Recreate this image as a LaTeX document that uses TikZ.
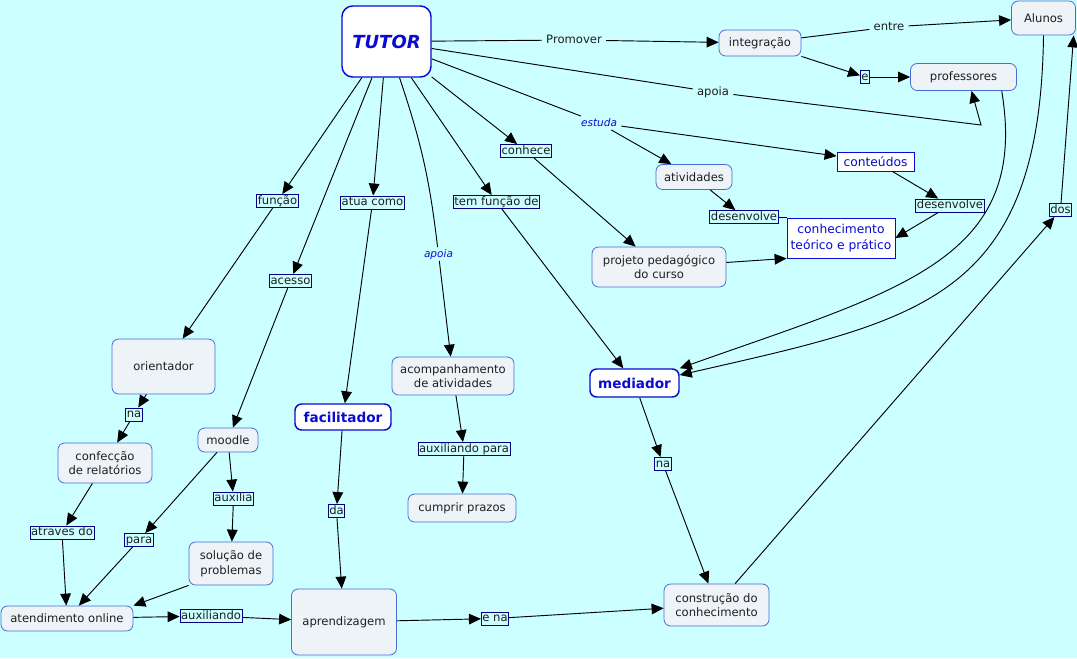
\documentclass[tikz,border=0pt]{standalone}
\usepackage{fontspec}
\setmainfont{DejaVu Sans}
\usetikzlibrary{arrows.meta}
\definecolor{mapbg}{RGB}{204,255,255}
\definecolor{mapfill}{RGB}{238,243,247}
\definecolor{mapedge}{RGB}{70,110,215}
\definecolor{mapnavy}{RGB}{0,0,128}
\definecolor{mapblue}{RGB}{10,10,210}
\definecolor{maptext}{RGB}{30,30,30}
\tikzset{
	concept/.style={draw=mapedge,fill=mapfill,rounded corners=5pt,text=maptext,align=center,
		inner sep=1pt,line width=0.6pt,font=\fontsize{8.7}{11}\selectfont},
	keyconcept/.style={concept,draw=mapblue,line width=1.1pt,fill=white,text=mapblue,
		font=\fontsize{10.2}{12}\selectfont\bfseries},
	topic/.style={concept,draw=mapblue,line width=0.6pt,fill=white,rounded corners=0pt,text=mapblue,
		font=\fontsize{9.2}{12.5}\selectfont},
	boxsize/.style 2 args={minimum width=#1*0.75pt,minimum height=#2*0.75pt},
	link/.style={draw=mapnavy,fill=mapbg,inner xsep=0.8pt,inner ysep=0.6pt,text height=6.8pt,
		text depth=1.9pt,text=maptext,line width=0.55pt,font=\fontsize{8.7}{10}\selectfont},
	plainlink/.style={link,draw=none,inner xsep=3pt},
	itlink/.style={plainlink,text=mapblue,font=\fontsize{7.9}{9}\selectfont\itshape},
	arc/.style={draw=black,line width=0.7pt},
	arr/.style={arc,-{Triangle[length=9pt,width=8pt]}}
}
\begin{document}
\begin{tikzpicture}[x=0.75pt,y=-0.75pt]
	\useasboundingbox (0,0) rectangle (1077,658);
	\fill [mapbg] (0,0) rectangle (1077,658);
	
	% concepts
	\node [keyconcept,boxsize={89}{71},rounded corners=8pt,font=\fontsize{13.5}{15}\selectfont\bfseries\itshape] (tutor) at (386.5,41.5) {TUTOR};
	\node [concept,boxsize={82}{26}] (integracao) at (760,43) {integração};
	\node [concept,boxsize={64}{34}] (alunos) at (1043.5,18) {Alunos};
	\node [concept,boxsize={106}{27}] (professores) at (963.5,77) {professores};
	\node [topic,boxsize={77}{19}] (conteudos) at (875.5,161.5) {conteúdos};
	\node [concept,boxsize={76}{25}] (atividades) at (694,177) {atividades};
	\node [topic,boxsize={108}{40}] (conhecimento) at (841,238) {conhecimento\\teórico e prático};
	\node [concept,boxsize={134}{40}] (projeto) at (659,267) {projeto pedagógico\\do curso};
	\node [concept,boxsize={103}{55}] (orientador) at (163.5,366.5) {orientador};
	\node [concept,boxsize={94}{40}] (confeccao) at (105,463) {confecção\\de relatórios};
	\node [concept,boxsize={60}{24}] (moodle) at (228,440) {moodle};
	\node [keyconcept,boxsize={96}{26}] (facilitador) at (343,417) {facilitador};
	\node [concept,boxsize={122}{38}] (acompanhamento) at (453,376) {acompanhamento\\de atividades};
	\node [concept,boxsize={108}{28}] (prazos) at (462,508) {cumprir prazos};
	\node [concept,boxsize={84}{43}] (solucao) at (231,563.5) {solução de\\problemas};
	\node [concept,boxsize={132}{25}] (atendimento) at (67,618.5) {atendimento online};
	\node [concept,boxsize={105}{66}] (aprendizagem) at (344,622) {aprendizagem};
	\node [keyconcept,boxsize={89}{28}] (mediador) at (634.5,383) {mediador};
	\node [concept,boxsize={105}{42}] (construcao) at (716.5,605) {construção do\\conhecimento};
	
	% linking phrases
	\node [plainlink] (promover) at (574,40) {Promover};
	\node [plainlink] (entre) at (889,27) {entre};
	\node [link] (elink) at (865,77) {e};
	\node [plainlink] (apoia) at (713,92) {apoia};
	\node [itlink] (estuda) at (599,123) {estuda};
	\node [link] (conhece) at (526,151) {conhece};
	\node [link] (atuacomo) at (372.5,202.5) {atua como};
	\node [link] (funcao) at (277.5,201) {função};
	\node [link] (temfuncao) at (496.5,202) {tem função de};
	\node [link] (acesso) at (290.5,281) {acesso};
	\node [itlink] (apoiaacomp) at (438.5,254) {apoia};
	\node [link] (desenv) at (744,217) {desenvolve};
	\node [link] (desenvconteudos) at (950,205.5) {desenvolve};
	\node [link] (dos) at (1060.5,210) {dos};
	\node [link] (na) at (134,414.5) {na};
	\node [link] (atraves) at (62,532.5) {atraves do};
	\node [link] (para) at (139,540) {para};
	\node [link] (auxilia) at (233.5,498.5) {auxilia};
	\node [link] (da) at (336.5,511) {da};
	\node [link] (auxiliando) at (211,616) {auxiliando};
	\node [link] (auxpara) at (464,449) {auxiliando para};
	\node [link] (ena) at (495,618.5) {e na};
	\node [link] (namediador) at (663,464) {na};
	
	% top right
	\draw [arc] (tutor) -- (promover);
	\draw [arr] (promover) -- (integracao);
	\draw [arc] (integracao) -- (entre);
	\draw [arr] (entre) -- (alunos);
	\draw [arr] (integracao) -- (elink);
	\draw [arr] (elink) -- (professores);
	\coordinate (apoiabend) at (981,125);
	\draw [arc] (tutor) -- (apoia);
	\draw [arr] (apoia) -- (apoiabend) -- (professores.-60);
	\draw [arc] (tutor) -- (estuda);
	\draw [arr] (estuda) -- (atividades);
	\draw [arr] (estuda) -- (conteudos);
	\draw [arr] (tutor) -- (conhece);
	\draw [arr] (conhece) -- (projeto);
	\draw [arr] (atividades) -- (desenv);
	\draw [arc] (desenv.east) -- (desenv.east -| conhecimento.west);
	\draw [arr] (conteudos) -- (desenvconteudos);
	\draw [arr] (desenvconteudos) -- (conhecimento.east);
	\draw [arr] (projeto) -- (conhecimento.south west);
	\draw [arr] (professores.-20) .. controls (1030,260) and (900,290) .. (mediador.north east);
	\draw [arr] (alunos.south) .. controls (1040,300) and (920,320) .. (mediador.10);
	
	% down from the tutor
	\draw [arr] (tutor) -- (funcao);
	\draw [arr] (funcao) -- (orientador);
	\draw [arr] (tutor) -- (acesso);
	\draw [arr] (acesso) -- (moodle);
	\draw [arr] (tutor) -- (atuacomo);
	\draw [arr] (atuacomo) -- (facilitador);
	\draw [arc] (tutor) to [bend left=6] (apoiaacomp);
	\draw [arr] (apoiaacomp) -- (acompanhamento);
	\draw [arr] (tutor) -- (temfuncao);
	\draw [arr] (temfuncao) -- (mediador);
	
	% bottom
	\draw [arr] (orientador) -- (na);
	\draw [arr] (na) -- (confeccao);
	\draw [arr] (confeccao) -- (atraves);
	\draw [arr] (atraves) -- (atendimento);
	\draw [arr] (moodle) -- (para);
	\draw [arr] (para) -- (atendimento);
	\draw [arr] (moodle) -- (auxilia);
	\draw [arr] (auxilia) -- (solucao);
	\draw [arr] (solucao.south west) -- (atendimento.north east);
	\draw [arr] (atendimento) -- (auxiliando);
	\draw [arr] (auxiliando) -- (aprendizagem);
	\draw [arr] (facilitador) -- (da);
	\draw [arr] (da) -- (aprendizagem);
	\draw [arr] (acompanhamento) -- (auxpara);
	\draw [arr] (auxpara) -- (prazos);
	\draw [arr] (aprendizagem) -- (ena);
	\draw [arr] (ena) -- (construcao);
	\draw [arr] (mediador) -- (namediador);
	\draw [arr] (namediador) -- (construcao);
	\draw [arr] (construcao) -- (dos);
	\draw [arr] (dos) -- (alunos.-30);
	
\end{tikzpicture}
\end{document}
